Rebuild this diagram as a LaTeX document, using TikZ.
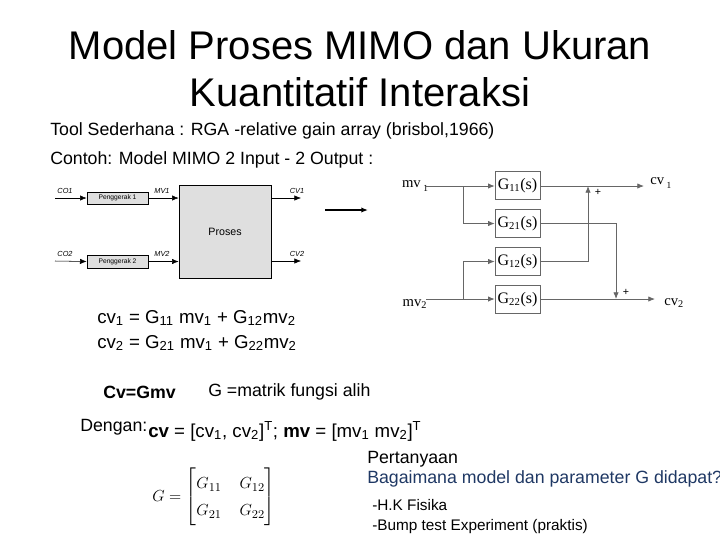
\documentclass[tikz,border=0pt]{standalone}
\usepackage{fontspec}
\setmainfont{Liberation Sans}
\newfontfamily\serifb{Liberation Serif}
\usepackage{amsmath}
\usetikzlibrary{arrows.meta}
\begin{document}
\begin{tikzpicture}[x=0.75pt,y=-0.75pt,
  lbl/.style={font=\fontsize{13.3}{15}\selectfont,anchor=west,inner sep=0},
  sm/.style={font=\fontsize{5.5}{6}\selectfont\itshape,inner sep=0},
  pbox/.style={draw,fill=gray!25,line width=0.5pt},
  gbox/.style={draw=gray!80!black,fill=white,minimum width=33.75pt,minimum height=21pt,font=\serifb\fontsize{12}{13}\selectfont,inner sep=0},
  sig/.style={draw=gray!80!black,line width=0.6pt},
  arr/.style={-{Latex[length=5pt,width=4pt]}},
  eq/.style={font=\fontsize{14}{16}\selectfont,anchor=west,inner sep=0}]
\useasboundingbox[clip] (0,0) rectangle (720,540);
% title
\node (t1) at (360,45) {\fontsize{30}{32}\selectfont Model Proses MIMO dan Ukuran};
\node (t2) at (360,92) {\fontsize{30}{32}\selectfont Kuantitatif Interaksi};
\node[lbl] (tool) at (50,131) {Tool Sederhana : RGA -relative gain array (brisbol,1966)};
\node[lbl] (cont) at (50,160) {Contoh: Model MIMO 2 Input - 2 Output :};
% left diagram
\node[pbox,minimum width=45.75pt,minimum height=9pt,inner sep=0,font=\fontsize{5}{6}\selectfont] (p1) at (117.5,198) {Penggerak 1};
\node[pbox,minimum width=45.75pt,minimum height=9.75pt,inner sep=0,font=\fontsize{5}{6}\selectfont] (p2) at (117.5,261.5) {Penggerak 2};
\node[pbox,minimum width=69pt,minimum height=69.75pt,inner sep=0,font=\fontsize{8}{9}\selectfont] (pr) at (225,231.5) {Proses};
\coordinate (co1) at (55,198); \coordinate (co2) at (55,261);
\coordinate (cv1e) at (301,198); \coordinate (cv2e) at (301,261);
\draw[arr] (co1) -- (p1.west);
\draw[arr] (co2) -- (p2.west);
\draw[arr] (p1.east) -- (pr.west |- p1.east);
\draw[arr] (p2.east) -- (pr.west |- p2.east);
\draw[arr] (pr.east |- cv1e) -- (cv1e);
\draw[arr] (pr.east |- cv2e) -- (cv2e);
\node[sm] (lco1) at (65,191) {CO1};
\node[sm] (lco2) at (65,254) {CO2};
\node[sm] (lmv1) at (162,191) {MV1};
\node[sm] (lmv2) at (162,254) {MV2};
\node[sm] (lcv1) at (297,191) {CV1};
\node[sm] (lcv2) at (297,254) {CV2};
\coordinate (ba) at (325,210); \coordinate (bb) at (368,210);
\draw[arr,line width=1pt] (ba) -- (bb);
% right diagram
\node[gbox] (g11) at (517.5,185.5) {G\textsubscript{11}(s)};
\node[gbox] (g21) at (517.5,223.5) {G\textsubscript{21}(s)};
\node[gbox] (g12) at (517.5,261.5) {G\textsubscript{12}(s)};
\node[gbox] (g22) at (517.5,299.5) {G\textsubscript{22}(s)};
\node[font=\serifb\fontsize{11}{12}\selectfont,inner sep=0] (mv1) at (415,186) {mv\,\raisebox{-3pt}{\scriptsize 1}};
\node[font=\serifb\fontsize{11}{12}\selectfont,inner sep=0] (mv2) at (415,304) {mv\textsubscript{2}};
\node[font=\serifb\fontsize{11}{12}\selectfont,inner sep=0,anchor=west] (cv1) at (650,183) {cv\,\raisebox{-3pt}{\scriptsize 1}};
\node[font=\serifb\fontsize{11}{12}\selectfont,inner sep=0,anchor=west] (cv2) at (664,303) {cv\textsubscript{2}};
\coordinate (s1) at (426,186); \coordinate (s2) at (426,299);
\coordinate (j1) at (463,186); \coordinate (j2) at (463,299);
\coordinate (c1) at (588,186); \coordinate (c2) at (616,299);
\coordinate (e1) at (644,186); \coordinate (e2) at (655,299);
\draw[sig,arr] (s1) -- (g11.west|-s1);
\draw[sig,arr] (j1) |- (g21.west);
\draw[sig,arr] (s2) -- (g22.west|-s2);
\draw[sig,arr] (j2) |- (g12.west);
\draw[sig,arr] (g11.east|-e1) -- (e1);
\draw[sig,arr] (g22.east|-e2) -- (e2);
\draw[sig,arr] (g12.east) -| (c1);
\draw[sig,arr] (g21.east) -| (c2);
\node[font=\fontsize{8}{9}\selectfont] (pl1) at (598,192) {+};
\node[font=\fontsize{8}{9}\selectfont] (pl2) at (626,292) {+};
% equations
\node[eq] (e1t) at (97,318) {cv\textsubscript{1} = G\textsubscript{11} mv\textsubscript{1} + G\textsubscript{12}mv\textsubscript{2}};
\node[eq] (e2t) at (97,343) {cv\textsubscript{2} = G\textsubscript{21} mv\textsubscript{1} + G\textsubscript{22}mv\textsubscript{2}};
\node[eq,font=\fontsize{13.3}{15}\selectfont] (cvg) at (103,392) {\bfseries Cv=Gmv};
\node[eq,font=\fontsize{13.3}{15}\selectfont] (gm) at (208,392) {G =matrik fungsi alih};
\node[eq,font=\fontsize{13.3}{15}\selectfont] (deng) at (80,427) {Dengan:};
\node[eq] (vec) at (148,431) {\textbf{cv} = [cv\textsubscript{1}, cv\textsubscript{2}]\textsuperscript{T}; \textbf{mv} = [mv\textsubscript{1} mv\textsubscript{2}]\textsuperscript{T}};
\node[font=\fontsize{13}{14}\selectfont,inner sep=0] (mat) at (214,497) {$\renewcommand{\arraystretch}{1.45}G=\begin{bmatrix} G_{11} & \;G_{12}\\ G_{21} & \;G_{22}\end{bmatrix}$};
\node[lbl] (q1) at (367,459) {Pertanyaan};
\node[lbl,text={rgb,255:red,31;green,56;blue,100}] (q2) at (367,479) {Bagaimana model dan parameter G didapat?};
\node[eq,font=\fontsize{11.5}{13}\selectfont] (q3) at (372,505) {-H.K Fisika};
\node[eq,font=\fontsize{11.5}{13}\selectfont] (q4) at (372,527) {-Bump test Experiment (praktis)};
\end{tikzpicture}
\end{document}
